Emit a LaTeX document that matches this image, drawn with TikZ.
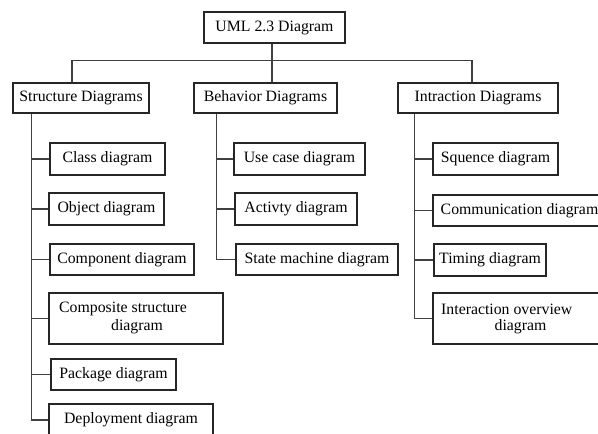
\documentclass[tikz,border=0pt]{standalone}
\usepackage{fontspec}
\setmainfont{Liberation Serif}
\begin{document}
\begin{tikzpicture}[x=1pt,y=-1pt,
  box/.style={draw=black!85,line width=1.1pt,inner sep=0pt,
    font=\fontsize{15.8}{18}\selectfont,text=black},
  txt/.style={inner sep=0pt,font=\fontsize{15.8}{18}\selectfont,text=black},
  conn/.style={draw=black!75,line width=1.1pt}]
\useasboundingbox (0,0) rectangle (598,434);
\clip (0,0) rectangle (598,434);
\fill[white] (0,0) rectangle (598,434);
% top levels
\node[box,minimum width=141pt,minimum height=31pt] (root) at (274.5,27.5) {UML 2.3 Diagram};
\node[box,minimum width=136pt,minimum height=30pt] (sd) at (81,98) {Structure Diagrams};
\node[box,minimum width=143pt,minimum height=30pt] (bd) at (265.5,98) {Behavior Diagrams};
\node[box,minimum width=160pt,minimum height=30pt] (id) at (478,98) {Intraction Diagrams};
% structure children
\node[box,minimum width=115pt,minimum height=32pt] (c1) at (107.5,159) {Class diagram};
\node[box,minimum width=115pt,minimum height=32pt] (c2) at (106.5,209) {Object diagram};
\node[box,minimum width=144pt,minimum height=31pt] (c3) at (122,259.5) {Component diagram};
\node[box,minimum width=174pt,minimum height=51pt] (c4) at (136,318.5) {};
\node[txt,anchor=west] (c4a) at (59,309) {Composite structure};
\node[txt] (c4b) at (137,327) {diagram};
\node[box,minimum width=125pt,minimum height=31pt] (c5) at (113.5,374.5) {Package diagram};
\node[box,minimum width=164pt,minimum height=32pt] (c6) at (131,420) {Deployment diagram};
% behavior children
\node[box,minimum width=131pt,minimum height=32pt] (b1) at (299.5,159) {Use case diagram};
\node[box,minimum width=122pt,minimum height=32pt] (b2) at (296,209) {Activty diagram};
\node[box,minimum width=162pt,minimum height=31pt] (b3) at (317,259.5) {State machine diagram};
% interaction children
\node[box,minimum width=125pt,minimum height=32pt] (i1) at (495.5,159) {Squence diagram};
\node[box,minimum width=173pt,minimum height=31pt] (i2) at (519.5,210.5) {Communication diagram};
\node[box,minimum width=112pt,minimum height=32pt] (i3) at (490,260) {Timing diagram};
\node[box,minimum width=173pt,minimum height=51pt] (i4) at (519.5,318.5) {};
\node[txt,anchor=west] (i4a) at (441,309) {Interaction overview};
\node[txt] (i4b) at (520.5,327) {diagram};
% connectors top
\draw[conn] ([xshift=6.5pt]bd.north) -- ([xshift=6.5pt]bd.north |- root.south);
\draw[conn] ([xshift=-9pt]sd.north) -- ++(0,-22) -| ([xshift=-6pt]id.north);
% trunks
\foreach \c in {c1,c2,c3,c4,c5,c6}
  \draw[conn] ([xshift=19pt]sd.south west) |- (\c.west);
\foreach \c in {b1,b2,b3}
  \draw[conn] ([xshift=23pt]bd.south west) |- (\c.west);
\foreach \c in {i1,i2,i3,i4}
  \draw[conn] ([xshift=17pt]id.south west) |- (\c.west);
\end{tikzpicture}
\end{document}
